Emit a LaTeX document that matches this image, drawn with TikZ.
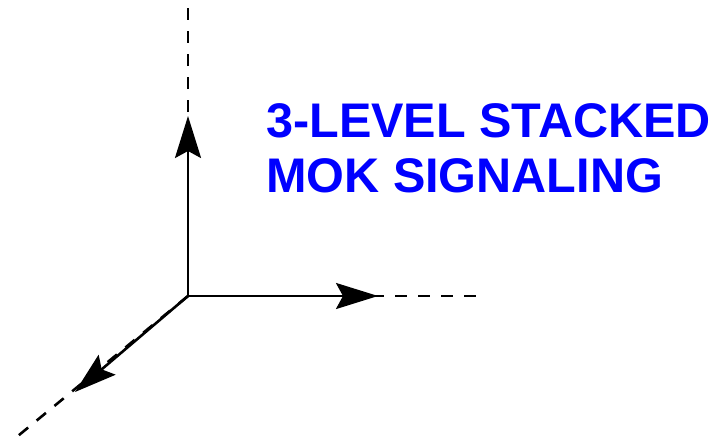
\documentclass[tikz,border=0pt]{standalone}
\usepackage{fontspec}
\newfontfamily\titlefont{Liberation Sans}
\usetikzlibrary{arrows.meta}
\begin{document}
\begin{tikzpicture}[x=1pt,y=-1pt,
  axisdash/.style={line width=2.6pt, dash pattern=on 12pt off 11pt},
  axisarrow/.style={line width=2.6pt, -{Stealth[length=42pt,width=26pt,inset=7pt]}},
  titletext/.style={inner sep=0pt, anchor=base west, text=titleblue, font=\titlefont\bfseries\fontsize{48.6}{55}\selectfont}]
\definecolor{titleblue}{RGB}{0,0,255}
\useasboundingbox (0,0) rectangle (711,444);
\coordinate (O) at (188,296);
\coordinate (Ztop) at (188,8);
\coordinate (Ztip) at (188,116);
\coordinate (Xend) at (478,296);
\coordinate (Xtip) at (378,296);
\coordinate (Yend) at (13,440);
\coordinate (Ytip) at (75,392);
\draw[axisdash] (O) -- (Ztop);
\draw[axisdash] (O) -- (Xend);
\draw[axisdash] (O) -- (Yend);
\draw[axisarrow] (O) -- (Ztip);
\draw[axisarrow] (O) -- (Xtip);
\draw[axisarrow] (O) -- (Ytip);
\node[titletext] (title1) at (266,137) {3-LEVEL STACKED};
\node[titletext] (title2) at (266,192) {MOK SIGNALING};
\end{tikzpicture}
\end{document}
